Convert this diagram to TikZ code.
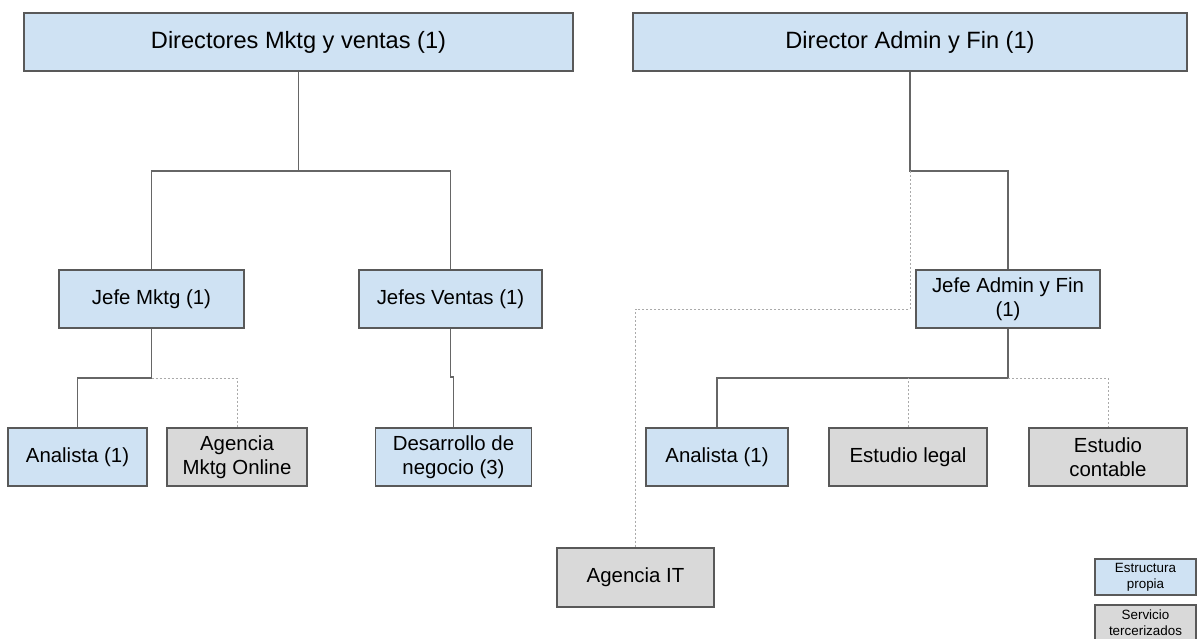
\documentclass[tikz,border=0pt]{standalone}
\usepackage{fontspec}
\setmainfont{Liberation Sans}
\definecolor{ownfill}{HTML}{CFE2F3}
\definecolor{extfill}{HTML}{D9D9D9}
\definecolor{edge}{HTML}{595959}
\definecolor{linkgray}{HTML}{666666}
\definecolor{dotgray}{HTML}{AAAAAA}
\tikzset{
  box/.style={draw=edge, line width=1.1pt, rectangle, inner sep=0pt, align=center,
    font=\fontsize{20.4}{23.5}\selectfont, minimum height=58pt},
  ownbox/.style={box, fill=ownfill},
  extbox/.style={box, fill=extfill},
  topbox/.style={ownbox, font=\fontsize{23.6}{26}\selectfont},
  legendbox/.style={draw=edge, line width=1.1pt, rectangle, inner sep=0pt, align=center,
    font=\fontsize{13.4}{16}\selectfont, minimum width=101pt},
  legendtext/.style={inner sep=0pt, align=center, font=\fontsize{13.4}{16}\selectfont},
  link/.style={draw=linkgray, line width=1.1pt},
  dotlink/.style={draw=dotgray, line width=0.9pt, dash pattern=on 2pt off 2pt},
}
\begin{document}
\begin{tikzpicture}[x=1pt, y=-1pt]
\useasboundingbox (0,0) rectangle (1197,639);

% top level
\node[topbox, minimum width=549pt] (dirmk) at (298.5,42) {Directores Mktg y ventas (1)};
\node[topbox, minimum width=554pt] (dirad) at (910,42) {Director Admin y Fin (1)};

% middle level
\node[ownbox, minimum width=185pt] (jmk) at (151.5,299) {Jefe Mktg (1)};
\node[ownbox, minimum width=183pt] (jve) at (450.5,299) {Jefes Ventas (1)};
\node[ownbox, minimum width=184pt] (jad) at (1008,299) {Jefe Admin y Fin\\(1)};

% bottom level
\node[ownbox, minimum width=139pt] (an1) at (77.5,457) {Analista (1)};
\node[extbox, minimum width=140pt] (amo) at (237,457) {Agencia\\Mktg Online};
\node[ownbox, minimum width=156pt] (des) at (453.5,457) {Desarrollo de\\negocio (3)};
\node[ownbox, minimum width=142pt] (an2) at (717,457) {Analista (1)};
\node[extbox, minimum width=158pt] (leg) at (908,457) {Estudio legal};
\node[extbox, minimum width=158pt] (con) at (1108,457) {Estudio\\contable};
\node[extbox, minimum width=157pt, minimum height=59pt] (ait) at (635.5,577.5) {Agencia IT};

% legend (the lower key runs past the bottom edge)
\node[legendbox, fill=ownfill, minimum height=36pt] (lg1) at (1145.5,577) {Estructura\\propia};
\path[draw=edge, fill=extfill, line width=1.1pt] (1095,605) rectangle (1196,650);
\node[legendtext] (lg2) at (1145.5,622.5) {Servicio\\tercerizados};

% branch points
\coordinate (b1) at (298.5,171);
\coordinate (b2) at (910,171);
\coordinate (b3) at (910,309);
\coordinate (b4) at (151.5,378);
\coordinate (b5) at (450.5,377);
\coordinate (b6) at (1008,378);

% solid reporting lines
\draw[link] (dirmk.south) -- (b1) -| (jmk.north);
\draw[link] (b1) -| (jve.north);
\draw[link] (dirad.south) -- (b2) -| (jad.north);
\draw[link] (jmk.south) -- (b4) -| (an1.north);
\draw[link] (jve.south) -- (b5) -| (des.north);
\draw[link] (jad.south) -- (b6) -| (an2.north);

% dotted lines to outsourced services
\draw[dotlink] (b2) -- (b3) -| (ait.north);
\draw[dotlink] (b4) -| (amo.north);
\draw[dotlink] (b6) -| (con.north);
\draw[dotlink] (leg.north) -- (leg.north |- b6);
\end{tikzpicture}
\end{document}
